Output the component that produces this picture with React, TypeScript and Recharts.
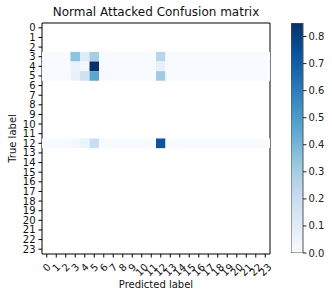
import React from "react";
import {
  ScatterChart,
  Scatter,
  XAxis,
  YAxis,
  ReferenceLine,
  BarChart,
  Bar,
} from "recharts";

const classes: string[] = Array.from({ length: 24 }, (_, i) => String(i));

// Rows that contain samples (other rows are empty / NaN and stay white)
const row3: number[] = [0, 0, 0, 0.35, 0.1, 0.3, 0, 0, 0, 0, 0, 0, 0.25, 0, 0, 0, 0, 0, 0, 0, 0, 0, 0, 0];
const row4: number[] = [0, 0, 0, 0.06, 0.02, 0.85, 0, 0, 0, 0, 0, 0, 0.07, 0, 0, 0, 0, 0, 0, 0, 0, 0, 0, 0];
const row5: number[] = [0, 0, 0, 0.06, 0.17, 0.46, 0, 0, 0, 0, 0, 0, 0.31, 0, 0, 0, 0, 0, 0, 0, 0, 0, 0, 0];
const row12: number[] = [0, 0, 0, 0.02, 0.05, 0.2, 0, 0, 0, 0, 0, 0, 0.73, 0, 0, 0, 0, 0, 0, 0, 0, 0, 0, 0];

const filledRows: { row: number; values: number[] }[] = [
  { row: 3, values: row3 },
  { row: 4, values: row4 },
  { row: 5, values: row5 },
  { row: 12, values: row12 },
];

const colorbarTicks: number[] = [0, 0.1, 0.2, 0.3, 0.4, 0.5, 0.6, 0.7, 0.8];

const BLUES = [
  "#f7fbff",
  "#deebf7",
  "#c6dbef",
  "#9ecae1",
  "#6baed6",
  "#4292c6",
  "#2171b5",
  "#08519c",
  "#08306b",
];

function hexToRgb(h: string): number[] {
  return [parseInt(h.slice(1, 3), 16), parseInt(h.slice(3, 5), 16), parseInt(h.slice(5, 7), 16)];
}

const cells = filledRows.flatMap((r) =>
  r.values.map((v, c) => ({ x: c, y: r.row, v }))
);
const vmax = Math.max(...cells.map((c) => c.v));

function blues(t: number): string {
  const tt = Math.max(0, Math.min(1, t)) * (BLUES.length - 1);
  const i = Math.min(BLUES.length - 2, Math.floor(tt));
  const f = tt - i;
  const a = hexToRgb(BLUES[i]);
  const b = hexToRgb(BLUES[i + 1]);
  const c = a.map((av, k) => Math.round(av + (b[k] - av) * f));
  return `rgb(${c[0]},${c[1]},${c[2]})`;
}

const W = 332;
const H = 296;
const XH = 42;
const YW = 42;
const M = { top: 23, right: 62, bottom: 0, left: 0 };
const plotW = W - M.right - YW;
const plotH = H - M.top - XH;
const cellW = plotW / classes.length;
const cellH = plotH / classes.length;

const FONT = "DejaVu Sans, sans-serif";

const CellShape = (props: any) => {
  const { cx, cy, payload } = props;
  return (
    <rect
      x={cx - cellW / 2}
      y={cy - cellH / 2}
      width={cellW}
      height={cellH}
      fill={blues(payload.v / vmax)}
      stroke="none"
    />
  );
};

const XTick = (props: any) => {
  const { x, y, payload } = props;
  const label = classes[payload.value] ?? String(payload.value);
  const w = label.length * 6.36;
  const h = 11;
  const bb = (w + h) * 0.7071;
  const cy = y + 1 + bb / 2;
  return (
    <text
      x={x}
      y={cy}
      textAnchor="middle"
      dominantBaseline="central"
      fontSize={10}
      fontFamily={FONT}
      fill="#111"
      transform={`rotate(-45 ${x} ${cy})`}
    >
      {label}
    </text>
  );
};

const YTick = (props: any) => {
  const { x, y, payload } = props;
  const label = classes[payload.value] ?? String(payload.value);
  return (
    <text
      x={x}
      y={y}
      textAnchor="end"
      dominantBaseline="central"
      fontSize={10}
      fontFamily={FONT}
      fill="#111"
    >
      {label}
    </text>
  );
};

const CbTick = (props: any) => {
  const { x, y, payload } = props;
  return (
    <text
      x={x}
      y={y}
      textAnchor="start"
      dominantBaseline="central"
      fontSize={10}
      fontFamily={FONT}
      fill="#222"
    >
      {Number(payload.value).toFixed(1)}
    </text>
  );
};

const colorbarData = [{ name: "cb", v: vmax }];

export default function App() {
  const ticks = classes.map((_, i) => i);
  return (
    <div style={{ position: "absolute", left: 0, top: 0, width: W, height: H, background: "#fff" }}>
      <div style={{ position: "absolute", left: 0, top: 0 }}>
        <ScatterChart width={W} height={H} margin={M}>
          <XAxis
            type="number"
            dataKey="x"
            domain={[-0.5, 23.5]}
            ticks={ticks}
            interval={0}
            axisLine={false}
            tickLine={{ stroke: "#000" }}
            tickSize={3.5}
            tickMargin={3}
            tick={<XTick />}
            allowDataOverflow
            height={XH}
          />
          <YAxis
            type="number"
            dataKey="y"
            domain={[-0.5, 23.5]}
            reversed
            ticks={ticks}
            interval={0}
            axisLine={false}
            tickLine={{ stroke: "#000" }}
            tickSize={3.5}
            tickMargin={3}
            tick={<YTick />}
            width={YW}
            allowDataOverflow
          />
          <Scatter data={cells} shape={<CellShape />} isAnimationActive={false} />
          <ReferenceLine x={-0.5} stroke="#000" strokeWidth={1} ifOverflow="visible" />
          <ReferenceLine x={23.5} stroke="#000" strokeWidth={1} ifOverflow="visible" />
          <ReferenceLine y={-0.5} stroke="#000" strokeWidth={1} ifOverflow="visible" />
          <ReferenceLine y={23.5} stroke="#000" strokeWidth={1} ifOverflow="visible" />
          <text x={YW + plotW / 2} y={12} textAnchor="middle" dominantBaseline="central" fontSize={12} fontFamily={FONT} fill="#111">
            Normal Attacked Confusion matrix
          </text>
          <text
            x={12}
            y={M.top + plotH / 2}
            textAnchor="middle"
            dominantBaseline="central"
            fontSize={10}
            fontFamily={FONT}
            fill="#111"
            transform={`rotate(-90 12 ${M.top + plotH / 2})`}
          >
            True label
          </text>
          <text x={YW + plotW / 2} y={284} textAnchor="middle" dominantBaseline="central" fontSize={10} fontFamily={FONT} fill="#111">
            Predicted label
          </text>
        </ScatterChart>
      </div>
      <div style={{ position: "absolute", left: 291, top: 0 }}>
        <BarChart
          width={41}
          height={H}
          data={colorbarData}
          margin={{ top: 23, right: 0, bottom: 43, left: 0 }}
          barCategoryGap={0}
        >
          <defs>
            <linearGradient id="cbGrad" x1="0" y1="1" x2="0" y2="0">
              {BLUES.map((c, i) => (
                <stop key={i} offset={`${(i / (BLUES.length - 1)) * 100}%`} stopColor={c} />
              ))}
            </linearGradient>
          </defs>
          <XAxis dataKey="name" hide />
          <YAxis
            orientation="right"
            type="number"
            domain={[0, vmax]}
            ticks={colorbarTicks}
            interval={0}
            axisLine={false}
            tickLine={{ stroke: "#222" }}
            tickSize={3.5}
            tickMargin={2}
            tick={<CbTick />}
            width={29}
            allowDataOverflow
          />
          <Bar dataKey="v" fill="url(#cbGrad)" stroke="#555" strokeWidth={1} isAnimationActive={false} />
        </BarChart>
      </div>
    </div>
  );
}
